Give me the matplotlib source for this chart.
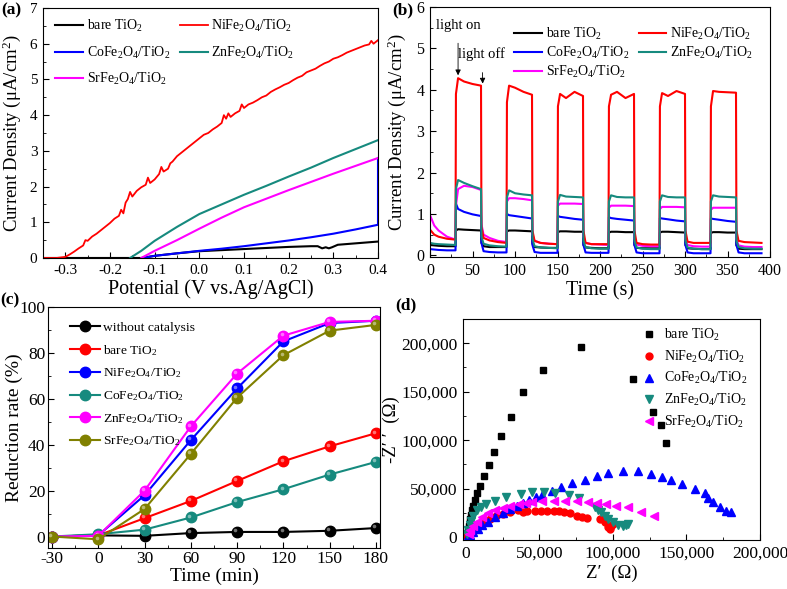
import matplotlib
matplotlib.use('Agg')
import matplotlib.pyplot as plt
import matplotlib.transforms as mtransforms
from matplotlib.ticker import AutoMinorLocator, FuncFormatter

plt.rcParams['font.family'] = ['Liberation Serif', 'DejaVu Serif']
plt.rcParams['mathtext.fontset'] = 'custom'
plt.rcParams['mathtext.rm'] = 'Liberation Serif'
plt.rcParams['mathtext.it'] = 'Liberation Serif:italic'
plt.rcParams['axes.unicode_minus'] = False

SUB2 = r'$_{\mathrm{2}}$'
SUB4 = r'$_{\mathrm{4}}$'
LBL_BARE = 'bare TiO' + SUB2
LBL_NI = 'NiFe' + SUB2 + 'O' + SUB4 + '/TiO' + SUB2
LBL_CO = 'CoFe' + SUB2 + 'O' + SUB4 + '/TiO' + SUB2
LBL_ZN = 'ZnFe' + SUB2 + 'O' + SUB4 + '/TiO' + SUB2
LBL_SR = 'SrFe' + SUB2 + 'O' + SUB4 + '/TiO' + SUB2

C_BLACK = 'black'
C_RED = '#ff0000'
C_BLUE = '#0000ff'
C_TEAL = '#168a7e'
C_MAG = '#ff00ff'
C_OLIVE = '#808000'

# ---------------- (a) LSV curves ----------------
a_bare_v = [-0.35, -0.13, -0.10, -0.05, 0.0, 0.05, 0.10, 0.15, 0.20, 0.25, 0.265,
            0.275, 0.283, 0.29, 0.297, 0.31, 0.35, 0.40]
a_bare_j = [0, 0, 0.06, 0.13, 0.19, 0.22, 0.25, 0.28, 0.31, 0.33, 0.33,
            0.27, 0.30, 0.27, 0.30, 0.37, 0.41, 0.46]
a_co_v = [-0.125, -0.10, -0.05, 0.0, 0.05, 0.10, 0.15, 0.20, 0.25, 0.30, 0.35, 0.40, 0.40]
a_co_j = [0, 0.06, 0.13, 0.20, 0.26, 0.33, 0.41, 0.49, 0.58, 0.68, 0.80, 0.93, 2.80]
a_zn_v = [-0.155, -0.13, -0.10, -0.05, 0.0, 0.05, 0.10, 0.15, 0.20, 0.25, 0.30, 0.35, 0.40]
a_zn_j = [0, 0.20, 0.48, 0.87, 1.23, 1.50, 1.77, 2.02, 2.28, 2.53, 2.80, 3.05, 3.30]
a_sr_v = [-0.13, -0.10, -0.05, 0.0, 0.05, 0.10, 0.15, 0.20, 0.25, 0.30, 0.35, 0.40]
a_sr_j = [0, 0.20, 0.50, 0.82, 1.13, 1.42, 1.66, 1.90, 2.13, 2.36, 2.58, 2.80]
a_ni_v = [-0.35, -0.32, -0.30, -0.29, -0.28, -0.27, -0.26, -0.255, -0.25, -0.24, -0.23,
          -0.22, -0.21, -0.20, -0.19, -0.18, -0.175, -0.17, -0.165, -0.16, -0.155,
          -0.15, -0.14, -0.13, -0.12, -0.115, -0.11, -0.10, -0.09, -0.085, -0.08,
          -0.07, -0.065, -0.06, -0.05, -0.04, -0.03, -0.02, -0.01, 0.0, 0.01, 0.02,
          0.03, 0.04, 0.05, 0.055, 0.06, 0.065, 0.07, 0.08, 0.09, 0.095, 0.10, 0.11,
          0.12, 0.13, 0.14, 0.15, 0.16, 0.17, 0.18, 0.19, 0.20, 0.21, 0.22, 0.23,
          0.24, 0.25, 0.26, 0.27, 0.28, 0.29, 0.30, 0.31, 0.32, 0.33, 0.34, 0.35,
          0.36, 0.37, 0.38, 0.385, 0.39, 0.40]
a_ni_j = [0, 0, 0.03, 0.10, 0.18, 0.27, 0.35, 0.50, 0.48, 0.60, 0.68,
          0.78, 0.88, 0.98, 1.10, 1.18, 1.35, 1.25, 1.55, 1.65, 1.85,
          1.72, 1.88, 1.98, 2.05, 2.25, 2.10, 2.20, 2.35, 2.55, 2.42,
          2.50, 2.65, 2.70, 2.85, 2.95, 3.05, 3.15, 3.25, 3.35, 3.45, 3.50,
          3.60, 3.68, 3.78, 4.00, 3.90, 4.05, 3.95, 4.05, 4.12, 4.30, 4.20, 4.30,
          4.35, 4.42, 4.50, 4.55, 4.65, 4.72, 4.78, 4.85, 4.90, 4.98, 5.05, 5.10,
          5.20, 5.25, 5.30, 5.38, 5.45, 5.50, 5.58, 5.62, 5.68, 5.75, 5.80, 5.85,
          5.90, 5.95, 5.98, 6.08, 6.00, 6.10]

# ---------------- (b) transient photocurrent ----------------
b_t = [0, 5, 10, 20, 30, 30.5, 33, 40, 50, 60, 60.5, 63, 70, 80, 90,
       90.5, 93, 100, 110, 120, 120.5, 123, 130, 140, 150, 150.5, 153, 160, 170, 180,
       180.5, 183, 190, 200, 210, 210.5, 213, 220, 230, 240, 240.5, 243, 250, 260, 270,
       270.5, 273, 280, 290, 300, 300.5, 303, 310, 320, 330, 330.5, 333, 340, 350, 360,
       360.5, 363, 370, 380, 390]
b_ni = [0.62, 0.50, 0.45, 0.40, 0.38, 3.90, 4.28, 4.20, 4.14, 4.10, 0.70, 0.42, 0.36, 0.32, 0.30,
        3.70, 4.10, 4.05, 3.95, 3.88, 0.60, 0.35, 0.30, 0.28, 0.27, 3.60, 3.90, 3.80, 3.95, 3.85,
        0.60, 0.30, 0.27, 0.27, 0.27, 3.60, 3.88, 3.95, 3.80, 3.90, 0.60, 0.30, 0.27, 0.26, 0.26,
        3.60, 3.92, 3.85, 3.97, 3.90, 0.60, 0.33, 0.30, 0.30, 0.30, 3.60, 3.97, 3.95, 3.94, 3.93,
        0.60, 0.35, 0.32, 0.31, 0.30]
b_zn = [0.30, 0.28, 0.27, 0.26, 0.25, 1.60, 1.82, 1.75, 1.67, 1.60, 0.45, 0.28, 0.24, 0.22, 0.21,
        1.40, 1.57, 1.50, 1.47, 1.45, 0.40, 0.22, 0.19, 0.18, 0.17, 1.30, 1.46, 1.42, 1.41, 1.40,
        0.35, 0.20, 0.17, 0.16, 0.16, 1.30, 1.45, 1.41, 1.40, 1.40, 0.35, 0.19, 0.16, 0.15, 0.15,
        1.30, 1.45, 1.41, 1.40, 1.40, 0.35, 0.19, 0.16, 0.15, 0.15, 1.30, 1.45, 1.42, 1.41, 1.40,
        0.35, 0.20, 0.17, 0.16, 0.16]
b_sr = [0.97, 0.72, 0.60, 0.45, 0.38, 1.20, 1.60, 1.68, 1.65, 1.58, 0.75, 0.50, 0.42, 0.35, 0.32,
        1.30, 1.38, 1.38, 1.36, 1.33, 0.50, 0.35, 0.30, 0.28, 0.27, 1.20, 1.25, 1.25, 1.25, 1.24,
        0.45, 0.30, 0.27, 0.26, 0.25, 1.15, 1.20, 1.20, 1.20, 1.19, 0.40, 0.26, 0.23, 0.22, 0.22,
        1.12, 1.17, 1.17, 1.17, 1.16, 0.40, 0.25, 0.22, 0.21, 0.21, 1.10, 1.15, 1.15, 1.15, 1.15,
        0.40, 0.24, 0.21, 0.20, 0.20]
b_co = [0.15, 0.14, 0.13, 0.12, 0.12, 1.25, 1.12, 1.05, 0.99, 0.95, 0.30, 0.10, 0.08, 0.07, 0.07,
        1.00, 0.97, 0.95, 0.92, 0.89, 0.25, 0.08, 0.06, 0.06, 0.06, 0.95, 0.93, 0.91, 0.88, 0.86,
        0.25, 0.07, 0.06, 0.06, 0.06, 0.92, 0.90, 0.88, 0.86, 0.84, 0.25, 0.07, 0.05, 0.05, 0.05,
        0.90, 0.89, 0.87, 0.84, 0.82, 0.25, 0.07, 0.05, 0.05, 0.05, 0.89, 0.88, 0.86, 0.83, 0.81,
        0.25, 0.07, 0.05, 0.05, 0.05]
b_bare = [0.25, 0.24, 0.23, 0.22, 0.22, 0.60, 0.63, 0.62, 0.61, 0.60, 0.30, 0.22, 0.20, 0.20, 0.20,
          0.58, 0.60, 0.60, 0.59, 0.58, 0.28, 0.20, 0.19, 0.18, 0.18, 0.56, 0.58, 0.58, 0.57, 0.57,
          0.25, 0.19, 0.18, 0.17, 0.17, 0.55, 0.57, 0.57, 0.56, 0.56, 0.25, 0.18, 0.17, 0.17, 0.17,
          0.55, 0.57, 0.57, 0.56, 0.55, 0.25, 0.17, 0.16, 0.15, 0.15, 0.54, 0.56, 0.56, 0.55, 0.55,
          0.24, 0.16, 0.15, 0.15, 0.15]

# ---------------- (c) reduction rate ----------------
c_time = [-30, 0, 30, 60, 90, 120, 150, 180]
c_none = [0, 0.5, 0.3, 1.5, 2.0, 2.0, 2.5, 3.7]
c_bare = [0, 0.5, 8.0, 15.5, 24.2, 32.8, 39.3, 45.0]
c_ni = [0, 0.5, 18.0, 42.0, 64.5, 85.0, 93.0, 94.0]
c_co = [0, 1.0, 3.0, 8.3, 15.0, 20.6, 27.0, 32.5]
c_zn = [0, 0.3, 20.0, 48.0, 71.0, 87.5, 93.5, 94.0]
c_sr = [0, -1.2, 12.0, 36.0, 60.5, 79.0, 89.7, 92.2]

# ---------------- (d) Nyquist plots ----------------
d_bare_re = [1200, 1500, 2000, 2500, 3000, 3500, 4200, 4900, 6000, 7800, 9900, 12300,
             15600, 19200, 23900, 30700, 38900, 52600, 78300, 113400, 127300, 132400, 136200]
d_bare_im = [4000, 7000, 11000, 15000, 19000, 23000, 28000, 32400, 38300, 45100, 53000, 63000,
             74300, 88000, 104400, 124300, 149700, 172300, 196000, 163000, 129400, 115700, 96900]
d_ni_re = [1000, 1500, 2500, 4000, 5500, 7500, 10000, 13000, 16500, 20500, 25000, 30000,
           35100, 38500, 41500, 46800, 50800, 55300, 59700, 63100, 66400, 70900, 75400,
           78700, 82100, 91100, 94400, 96600, 97800, 98900, 100000]
d_ni_im = [800, 1500, 4000, 6500, 9000, 11500, 14000, 16500, 19000, 21500, 23500, 25500,
           28000, 25900, 26500, 27000, 27000, 26800, 26600, 26400, 25500, 24500, 21800,
           21000, 19300, 18700, 15200, 10800, 8400, 11800, 13500]
d_co_re = [1500, 3000, 5000, 8000, 11000, 15000, 20000, 25000, 30000, 35000, 38500, 42600,
           47400, 52000, 58200, 64900, 72000, 81000, 88800, 96600, 106700, 116800, 125700,
           133600, 139600, 147000, 155900, 162600, 164900, 168200, 172700, 177200, 180500]
d_co_im = [1000, 2500, 5000, 8500, 12000, 16000, 20500, 24500, 28500, 32000, 35500, 38300,
           41000, 43700, 47800, 51200, 55400, 58800, 63300, 66400, 67700, 68400, 65600,
           61500, 58800, 54700, 49600, 45500, 40300, 35800, 30700, 27300, 25500]
d_zn_re = [1000, 1500, 2500, 3500, 5000, 7200, 10000, 13900, 19900, 27000, 37400, 45200,
           53000, 60900, 69800, 77200, 87700, 89900, 92100, 94400, 96600, 100000, 103400,
           106700, 108900, 110000]
d_zn_im = [3000, 7000, 12000, 17000, 22000, 27500, 31000, 34100, 37500, 41000, 44500, 46100,
           46100, 45100, 43400, 40300, 30700, 28300, 25500, 22100, 18700, 15200, 12500,
           11100, 12800, 13500]
d_sr_re = [2000, 3000, 5000, 7500, 11000, 15000, 20000, 25000, 30000, 36200, 40700, 45200,
           51900, 59700, 67600, 75400, 83200, 88800, 95500, 102300, 110000, 119000, 128000]
d_sr_im = [3500, 7000, 11500, 16000, 20500, 24500, 28000, 30500, 32500, 34100, 35100, 36500,
           36800, 36800, 37500, 36800, 35800, 34800, 34100, 32400, 30700, 25500, 21800]


def style_axes(ax, fs=11, pad=4):
    ax.tick_params(which='both', direction='in', top=False, right=False,
                   labelsize=fs, pad=pad)
    ax.tick_params(which='major', length=4)
    ax.tick_params(which='minor', length=2)
    ax.xaxis.set_minor_locator(AutoMinorLocator(2))
    ax.yaxis.set_minor_locator(AutoMinorLocator(2))
    for sp in ax.spines.values():
        sp.set_linewidth(0.8)


fig = plt.figure(figsize=(7.87, 5.89), dpi=100)

# (a)
ax = fig.add_axes([0.0546, 0.562, 0.4257, 0.4244])
ax.plot(a_bare_v, a_bare_j, color=C_BLACK, lw=1.5, label=LBL_BARE)
ax.plot(a_co_v, a_co_j, color=C_BLUE, lw=1.5, label=LBL_CO)
ax.plot(a_sr_v, a_sr_j, color=C_MAG, lw=1.5, label=LBL_SR)
ax.plot(a_ni_v, a_ni_j, color=C_RED, lw=1.3, label=LBL_NI)
ax.plot(a_zn_v, a_zn_j, color=C_TEAL, lw=1.5, label=LBL_ZN)
ax.set_xlim(-0.35, 0.4)
ax.set_ylim(0, 7)
ax.set_xticks([-0.3, -0.2, -0.1, 0.0, 0.1, 0.2, 0.3, 0.4])
ax.set_yticks(range(0, 8))
style_axes(ax)
ax.set_xlabel('Potential (V vs.Ag/AgCl)', fontsize=14.5, labelpad=2)
ax.set_ylabel(r'Current Density (μA/cm$^{\mathrm{2}}$)', fontsize=13.5, labelpad=5)
ax.legend(loc='upper left', ncol=2, frameon=False, fontsize=10,
          handlelength=2.0, handletextpad=0.25, columnspacing=0.7,
          labelspacing=0.75, bbox_to_anchor=(0.0, 1.01))

# (b)
ax = fig.add_axes([0.5464, 0.5637, 0.432, 0.4244])
ax.plot(b_t, b_bare, color=C_BLACK, lw=1.5, label=LBL_BARE)
ax.plot(b_t, b_co, color=C_BLUE, lw=1.5, label=LBL_CO)
ax.plot(b_t, b_sr, color=C_MAG, lw=1.5, label=LBL_SR)
ax.plot(b_t, b_ni, color=C_RED, lw=1.5, label=LBL_NI)
ax.plot(b_t, b_zn, color=C_TEAL, lw=1.5, label=LBL_ZN)
ax.set_xlim(0, 400)
ax.set_ylim(-0.04, 6)
ax.set_xticks(range(0, 401, 50))
ax.set_yticks(range(0, 7))
style_axes(ax, fs=11.5)
ax.set_xlabel('Time (s)', fontsize=14.5, labelpad=2)
ax.set_ylabel(r'Current Density (μA/cm$^{\mathrm{2}}$)', fontsize=13.5, labelpad=6)
ax.legend(loc='upper right', ncol=2, frameon=False, fontsize=10,
          handlelength=2.0, handletextpad=0.25, columnspacing=0.7,
          labelspacing=0.2, bbox_to_anchor=(0.985, 0.975))
ax.annotate('light on', xy=(33, 4.35), xytext=(33, 5.55), fontsize=10.5,
            ha='center', va='center',
            arrowprops=dict(arrowstyle='-|>', color='black', lw=0.6,
                            mutation_scale=8, shrinkA=6, shrinkB=0))
ax.annotate('light off', xy=(62, 4.15), xytext=(61, 4.85), fontsize=10.5,
            ha='center', va='center',
            arrowprops=dict(arrowstyle='-|>', color='black', lw=0.6,
                            mutation_scale=8, shrinkA=6, shrinkB=0))

# (c)
ax = fig.add_axes([0.061, 0.0696, 0.4218, 0.4092])
c_series = [(c_none, C_BLACK, 'without catalysis'),
            (c_bare, C_RED, LBL_BARE),
            (c_ni, C_BLUE, LBL_NI),
            (c_co, C_TEAL, LBL_CO),
            (c_zn, C_MAG, LBL_ZN),
            (c_sr, C_OLIVE, LBL_SR)]
# small off-centre highlight to mimic the shaded ball markers
shine = ax.transData + mtransforms.ScaledTranslation(-1.2 / 72, 1.2 / 72,
                                                     fig.dpi_scale_trans)
for vals, col, lbl in c_series:
    ax.plot(c_time, vals, color=col, lw=1.5, marker='o', ms=7.5,
            mfc=col, mec=col, label=lbl)
    ax.plot(c_time, vals, ls='none', marker='o', ms=2.6, mfc='white',
            mec='none', alpha=0.45, transform=shine)
ax.set_xlim(-32.6, 182.6)
ax.set_ylim(-5, 100)
ax.set_xticks(c_time)
ax.set_yticks(range(0, 101, 20))
style_axes(ax, fs=12.5, pad=2)
ax.set_xlabel('Time (min)', fontsize=14, labelpad=1)
ax.set_ylabel('Reduction rate (%)', fontsize=14)
ax.yaxis.set_label_coords(-0.075, 0.5)
ax.legend(loc='upper left', frameon=False, fontsize=9.7, handlelength=2.2,
          handletextpad=0.25, labelspacing=0.66, bbox_to_anchor=(0.03, 0.99))

# (d)
ax = fig.add_axes([0.5883, 0.0832, 0.3774, 0.3752])
ax.plot(d_bare_re, d_bare_im, ls='none', marker='s', ms=4.5, color=C_BLACK, label=LBL_BARE)
ax.plot(d_ni_re, d_ni_im, ls='none', marker='o', ms=5, color=C_RED, label=LBL_NI)
ax.plot(d_co_re, d_co_im, ls='none', marker='^', ms=5.5, color=C_BLUE, label=LBL_CO)
ax.plot(d_zn_re, d_zn_im, ls='none', marker='v', ms=5.5, color=C_TEAL, label=LBL_ZN)
ax.plot(d_sr_re, d_sr_im, ls='none', marker='<', ms=5.5, color=C_MAG, label=LBL_SR)
ax.set_xlim(-2000, 200000)
ax.set_ylim(-3000, 225000)
ax.set_xticks(range(0, 200001, 50000))
ax.set_yticks(range(0, 200001, 50000))
comma = FuncFormatter(lambda v, p: '{:,.0f}'.format(v))
ax.xaxis.set_major_formatter(comma)
ax.yaxis.set_major_formatter(comma)
style_axes(ax, fs=12.5)
ax.set_xlabel('Z\u2032  (\u03a9)', fontsize=13.5, labelpad=2)
ax.set_ylabel('-Z\u2032 \u2032  (\u03a9)', fontsize=13.5, labelpad=1)
ax.legend(loc='upper right', frameon=False, fontsize=10, handlelength=1.0,
          handletextpad=0.6, labelspacing=0.4, bbox_to_anchor=(1.0, 1.02))

for lbl, x, y in [('(a)', 0.002, 0.982), ('(b)', 0.498, 0.982),
                  ('(c)', 0.0, 0.49), ('(d)', 0.502, 0.482)]:
    fig.text(x, y, lbl, fontsize=12.5, fontweight='bold', ha='left', va='center')

fig.savefig('out.png', dpi=100)
